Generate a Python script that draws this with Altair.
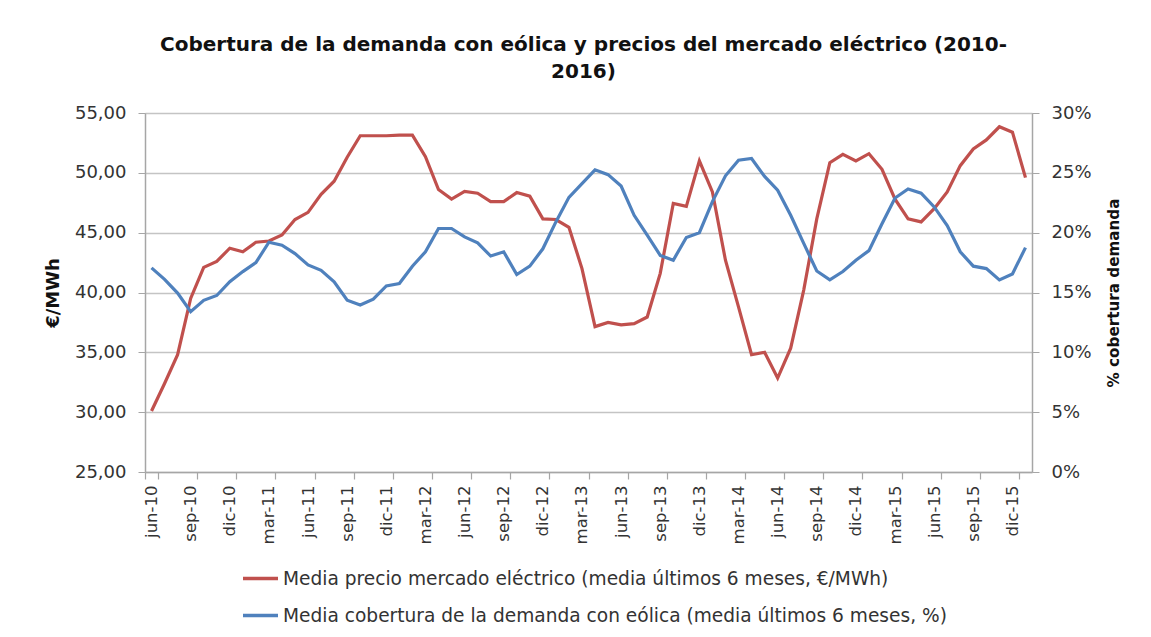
import altair as alt
import pandas as pd

meses = ["jun-10","jul-10","ago-10","sep-10","oct-10","nov-10","dic-10",
         "ene-11","feb-11","mar-11","abr-11","may-11","jun-11","jul-11","ago-11","sep-11","oct-11","nov-11","dic-11",
         "ene-12","feb-12","mar-12","abr-12","may-12","jun-12","jul-12","ago-12","sep-12","oct-12","nov-12","dic-12",
         "ene-13","feb-13","mar-13","abr-13","may-13","jun-13","jul-13","ago-13","sep-13","oct-13","nov-13","dic-13",
         "ene-14","feb-14","mar-14","abr-14","may-14","jun-14","jul-14","ago-14","sep-14","oct-14","nov-14","dic-14",
         "ene-15","feb-15","mar-15","abr-15","may-15","jun-15","jul-15","ago-15","sep-15","oct-15","nov-15","dic-15",
         "ene-16"]

precio = [30.1, 32.4, 34.8, 39.5, 42.1, 42.6, 43.7, 43.4, 44.2, 44.3, 44.8, 46.1, 46.7, 48.2, 49.3, 51.3,
          53.1, 53.1, 53.1, 53.15, 53.15, 51.35, 48.6, 47.8, 48.45, 48.3, 47.6, 47.6, 48.35, 48.05, 46.15,
          46.1, 45.45, 42.0, 37.15, 37.5, 37.3, 37.4, 37.95, 41.6, 47.45, 47.2, 51.0, 48.4, 42.7, 38.8, 34.8,
          35.0, 32.85, 35.35, 40.2, 46.15, 50.85, 51.55, 51.0, 51.6, 50.3, 47.8, 46.15, 45.9, 47.0, 48.4,
          50.6, 52.0, 52.75, 53.85, 53.4, 49.6]

cobertura = [17.06, 16.1, 14.95, 13.4, 14.35, 14.75, 15.9, 16.75, 17.5, 19.2, 18.95, 18.25, 17.3, 16.85,
             15.9, 14.35, 13.95, 14.45, 15.55, 15.75, 17.2, 18.4, 20.35, 20.35, 19.65, 19.15, 18.05, 18.4,
             16.5, 17.2, 18.65, 20.9, 22.95, 24.1, 25.25, 24.85, 23.9, 21.45, 19.8, 18.1, 17.7, 19.6, 20.0,
             22.6, 24.75, 26.05, 26.2, 24.7, 23.55, 21.45, 19.1, 16.8, 16.05, 16.75, 17.7, 18.5, 20.75, 22.9,
             23.65, 23.3, 22.15, 20.6, 18.4, 17.2, 17.0, 16.05, 16.55, 18.75]

serie_precio = "Media precio mercado eléctrico (media últimos 6 meses, €/MWh)"
serie_cob = "Media cobertura de la demanda con eólica (media últimos 6 meses, %)"

df = pd.DataFrame({"mes": meses, "precio": precio, "cobertura": cobertura,
                   "sp": [serie_precio] * len(meses), "sc": [serie_cob] * len(meses)})

FONT = "DejaVu Sans"
RED = "#C0504D"
BLUE = "#4F81BD"
label_vals = meses[::3]

x_enc = alt.X("mes:O", sort=meses,
              scale=alt.Scale(type="band", domain=meses, paddingInner=0, paddingOuter=0),
              axis=alt.Axis(title=None, values=label_vals, labelAngle=270, labelAlign="right",
                            labelBaseline="middle", labelFontSize=16.5, labelFont=FONT, labelColor="#333333",
                            tickBand="extent", tickSize=7, tickColor="#a6a6a6", domainColor="#a6a6a6",
                            domainWidth=1.5, tickWidth=1.2, labelPadding=6, grid=False))

color_scale = alt.Scale(domain=[serie_precio, serie_cob], range=[RED, BLUE])

red = alt.Chart(df).mark_line(strokeWidth=3.2).encode(
    x=x_enc,
    y=alt.Y("precio:Q", scale=alt.Scale(domain=[25, 55]),
            axis=alt.Axis(title="€/MWh", values=[25, 30, 35, 40, 45, 50, 55],
                          labelExpr="replace(format(datum.value, '.2f'), '.', ',')",
                          labelFontSize=18, labelFont=FONT, labelColor="#333333", labelPadding=12,
                          tickSize=7, tickColor="#a6a6a6", domainColor="#a6a6a6", domainWidth=1.5,
                          grid=True, gridColor="#c4c4c4", gridWidth=1.5,
                          titleFont=FONT, titleFontSize=18, titleFontWeight="bold", titleColor="#111111",
                          titleAngle=270, titleX=-92, titleY=179.5, titleAlign="center",
                          titleBaseline="middle")),
    color=alt.Color("sp:N", scale=color_scale,
                    legend=alt.Legend(title=None, orient="none", legendX=96, legendY=446,
                                      direction="vertical", symbolType="stroke",
                                      symbolSize=1225, symbolStrokeWidth=3.5,
                                      labelFont=FONT, labelFontSize=18.6, labelColor="#333333",
                                      labelLimit=1000, rowPadding=7, padding=0, labelOffset=3))
)

blue = alt.Chart(df).mark_line(strokeWidth=3.2).encode(
    x=x_enc,
    y=alt.Y("cobertura:Q", scale=alt.Scale(domain=[0, 30]),
            axis=alt.Axis(title="% cobertura demanda", orient="right",
                          values=[0, 5, 10, 15, 20, 25, 30],
                          labelExpr="datum.value + '%'",
                          labelFontSize=18, labelFont=FONT, labelColor="#333333", labelPadding=12,
                          tickSize=7, tickColor="#a6a6a6", domainColor="#a6a6a6", domainWidth=1.5,
                          grid=False,
                          titleFont=FONT, titleFontSize=15.2, titleFontWeight="bold", titleColor="#111111",
                          titleAngle=270, titleX=81, titleY=179.5, titleAlign="center",
                          titleBaseline="middle")),
    color=alt.Color("sc:N")
)

chart = alt.layer(red, blue).resolve_scale(y="independent").properties(
    width=887, height=359,
    autosize=alt.AutoSizeParams(type="none"),
    padding={"left": 137, "top": 105, "right": 100, "bottom": 157},
    title=alt.TitleParams(
        text=["Cobertura de la demanda con eólica y precios del mercado eléctrico (2010-", "2016)"],
        font=FONT, fontSize=20, fontWeight="bold", color="#111111",
        anchor="middle", frame="group", offset=22, lineHeight=27, dx=-5),
).configure_view(stroke=None).configure(background="white")

chart.save("out.html", embed_options={"renderer": "svg", "actions": False})
